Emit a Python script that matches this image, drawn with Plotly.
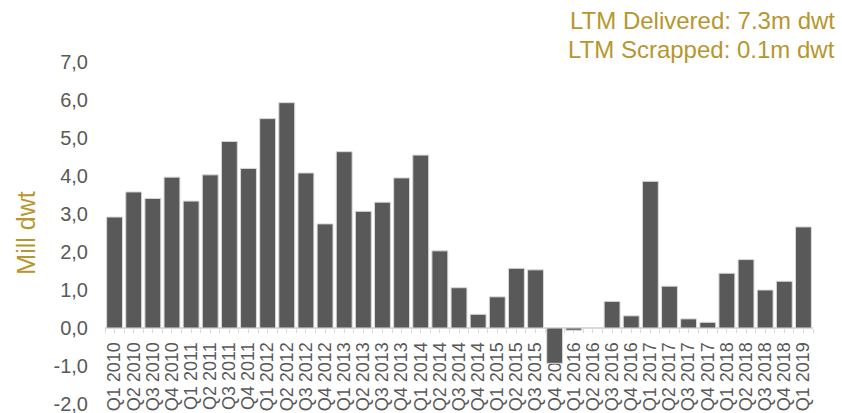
import plotly.graph_objects as go

# Quarterly net fleet growth, million dwt
quarters = [
    "Q1 2010", "Q2 2010", "Q3 2010", "Q4 2010",
    "Q1 2011", "Q2 2011", "Q3 2011", "Q4 2011",
    "Q1 2012", "Q2 2012", "Q3 2012", "Q4 2012",
    "Q1 2013", "Q2 2013", "Q3 2013", "Q4 2013",
    "Q1 2014", "Q2 2014", "Q3 2014", "Q4 2014",
    "Q1 2015", "Q2 2015", "Q3 2015", "Q4 2015",
    "Q1 2016", "Q2 2016", "Q3 2016", "Q4 2016",
    "Q1 2017", "Q2 2017", "Q3 2017", "Q4 2017",
    "Q1 2018", "Q2 2018", "Q3 2018", "Q4 2018",
    "Q1 2019",
]
net_dwt = [
    2.92, 3.58, 3.41, 3.97,
    3.34, 4.03, 4.91, 4.20,
    5.51, 5.93, 4.08, 2.74,
    4.64, 3.07, 3.31, 3.95,
    4.55, 2.03, 1.06, 0.36,
    0.82, 1.57, 1.53, -0.93,
    -0.06, 0.0, 0.70, 0.32,
    3.86, 1.10, 0.24, 0.15,
    1.44, 1.80, 1.00, 1.23,
    2.66,
]
y_tick_vals = [-2, -1, 0, 1, 2, 3, 4, 5, 6, 7]
y_tick_text = ["-2,0", "-1,0", "0,0", "1,0", "2,0", "3,0", "4,0", "5,0", "6,0", "7,0"]
notes = ["LTM Delivered: 7.3m dwt", "LTM Scrapped: 0.1m dwt"]

W, H = 842, 413
M_L, M_R, M_T, M_B = 105, 29, 62, 9
Y_MIN, Y_MAX = -2, 7
GOLD = "#B8962E"
GREY_TXT = "#595959"
AXIS_GREY = "#D9D9D9"
FONT = "Liberation Sans, Arial, sans-serif"

zero_pos = (0 - Y_MIN) / (Y_MAX - Y_MIN)
x_range = [-0.5, len(quarters) - 0.5]

fig = go.Figure()
fig.add_trace(go.Bar(
    x=quarters, y=net_dwt,
    marker=dict(color="#595959", line=dict(color=AXIS_GREY, width=1)),
    hoverinfo="x+y",
))
# helper trace so the boundary tick axis gets the same categories
fig.add_trace(go.Scatter(
    x=quarters, y=[None] * len(quarters), xaxis="x2",
    mode="lines", showlegend=False, hoverinfo="skip",
))

common_x = dict(
    type="category", categoryorder="array", categoryarray=quarters,
    tickmode="array", tickvals=quarters, range=x_range,
    anchor="free", position=zero_pos,
    showgrid=False, zeroline=False, automargin=False,
    ticks="outside", ticklen=4, tickwidth=1, tickcolor=AXIS_GREY,
    layer="below traces",
)

fig.update_layout(
    width=W, height=H,
    margin=dict(l=M_L, r=M_R, t=M_T, b=M_B, pad=0),
    paper_bgcolor="white", plot_bgcolor="white",
    showlegend=False,
    bargap=0.17,
    font=dict(family=FONT, color=GREY_TXT),
    xaxis=dict(
        **common_x,
        showline=True, linecolor=AXIS_GREY, linewidth=2,
        tickangle=-90,
        tickfont=dict(size=18, color=GREY_TXT),
        ticklabelstandoff=2,
    ),
    xaxis2=dict(
        **common_x,
        overlaying="x", matches="x",
        showline=False, showticklabels=False,
        tickson="boundaries",
    ),
    yaxis=dict(
        range=[Y_MIN, Y_MAX], automargin=False,
        tickvals=y_tick_vals, ticktext=y_tick_text,
        showgrid=False, zeroline=False, showline=False,
        ticks="", tickfont=dict(size=20, color=GREY_TXT),
        ticklabelstandoff=16, ticklabeloverflow="allow",
        title=dict(text="Mill dwt", font=dict(size=25, color=GOLD), standoff=10),
    ),
)

plot_w = W - M_L - M_R
plot_h = H - M_T - M_B
for i, (txt, py) in enumerate(zip(notes, [20, 50])):
    fig.add_annotation(
        text=txt, xref="paper", yref="paper",
        x=(837 - M_L) / plot_w, y=(H - M_B - py) / plot_h,
        xanchor="right", yanchor="middle", showarrow=False,
        font=dict(size=24, color=GOLD),
    )

fig.write_html("out.html")
